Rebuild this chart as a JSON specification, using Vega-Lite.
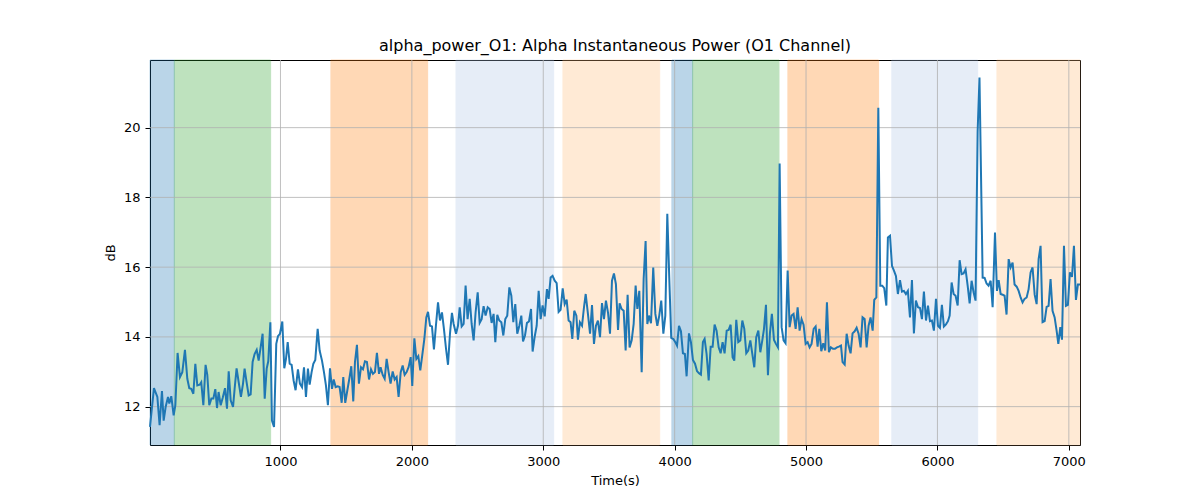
{
  "$schema": "https://vega.github.io/schema/vega-lite/v6.json",
  "width": 930,
  "height": 385,
  "autosize": "none",
  "padding": {"left": 150, "top": 60, "right": 120, "bottom": 55},
  "title": {"text": "alpha_power_O1: Alpha Instantaneous Power (O1 Channel)"},
  "datasets": {
    "bands": [
      {"start": 7, "end": 192, "phase": "p1"},
      {"start": 192, "end": 925, "phase": "p2"},
      {"start": 1384, "end": 2120, "phase": "p3"},
      {"start": 2336, "end": 3079, "phase": "p4"},
      {"start": 3150, "end": 3886, "phase": "p5"},
      {"start": 3979, "end": 4137, "phase": "p1"},
      {"start": 4137, "end": 4794, "phase": "p2"},
      {"start": 4862, "end": 5552, "phase": "p3"},
      {"start": 5653, "end": 6306, "phase": "p4"},
      {"start": 6453, "end": 7085, "phase": "p5"}
    ],
    "xgrid": [{"gx": 1000}, {"gx": 2000}, {"gx": 3000}, {"gx": 4000}, {"gx": 5000}, {"gx": 6000}, {"gx": 7000}],
    "ygrid": [{"gy": 12}, {"gy": 14}, {"gy": 16}, {"gy": 18}, {"gy": 20}],
    "signal": [
      {"t":7,"db":11.42},{"t":37,"db":12.53},{"t":63,"db":12.28},{"t":80,"db":11.47},{"t":98,"db":12.45},{"t":111,"db":11.6},{"t":126,"db":11.99},{"t":144,"db":12.28},{"t":154,"db":12.09},{"t":169,"db":12.3},{"t":187,"db":11.75},{"t":200,"db":12.04},{"t":217,"db":13.54},{"t":235,"db":12.85},{"t":253,"db":12.99},{"t":273,"db":13.63},{"t":291,"db":12.8},{"t":306,"db":12.53},{"t":321,"db":12.51},{"t":337,"db":12.37},{"t":352,"db":13.23},{"t":367,"db":12.61},{"t":385,"db":12.63},{"t":397,"db":12.7},{"t":413,"db":12.04},{"t":430,"db":13.2},{"t":443,"db":12.91},{"t":458,"db":12.04},{"t":474,"db":12.23},{"t":489,"db":12.23},{"t":504,"db":12.5},{"t":517,"db":11.96},{"t":529,"db":12.42},{"t":545,"db":12.04},{"t":560,"db":12.25},{"t":578,"db":12.53},{"t":593,"db":11.94},{"t":606,"db":13.01},{"t":621,"db":12.18},{"t":639,"db":11.99},{"t":651,"db":12.51},{"t":666,"db":13.1},{"t":682,"db":12.7},{"t":699,"db":12.28},{"t":715,"db":12.66},{"t":727,"db":13.09},{"t":742,"db":12.7},{"t":758,"db":12.32},{"t":773,"db":12.35},{"t":788,"db":13.28},{"t":803,"db":13.51},{"t":819,"db":13.63},{"t":834,"db":13.32},{"t":849,"db":13.7},{"t":864,"db":14.09},{"t":880,"db":12.23},{"t":895,"db":13.09},{"t":907,"db":13.3},{"t":923,"db":14.42},{"t":935,"db":11.6},{"t":951,"db":11.42},{"t":968,"db":13.8},{"t":981,"db":14.02},{"t":996,"db":14.09},{"t":1014,"db":14.44},{"t":1029,"db":13.1},{"t":1042,"db":13.37},{"t":1055,"db":13.85},{"t":1070,"db":13.23},{"t":1085,"db":13.2},{"t":1100,"db":12.75},{"t":1115,"db":12.47},{"t":1133,"db":13.07},{"t":1148,"db":12.66},{"t":1164,"db":12.56},{"t":1179,"db":13.13},{"t":1194,"db":12.28},{"t":1209,"db":13.09},
      {"t":1222,"db":12.63},{"t":1237,"db":12.99},{"t":1250,"db":13.23},{"t":1265,"db":13.34},{"t":1283,"db":14.23},{"t":1298,"db":13.61},{"t":1316,"db":13.32},{"t":1331,"db":12.99},{"t":1346,"db":12.61},{"t":1361,"db":12.04},{"t":1377,"db":13.1},{"t":1392,"db":12.51},{"t":1405,"db":12.78},{"t":1420,"db":12.56},{"t":1435,"db":12.58},{"t":1450,"db":12.56},{"t":1466,"db":12.11},{"t":1478,"db":12.85},{"t":1493,"db":12.11},{"t":1509,"db":12.47},{"t":1524,"db":12.8},{"t":1539,"db":13.16},{"t":1554,"db":12.15},{"t":1567,"db":13.28},{"t":1582,"db":13.77},{"t":1597,"db":12.66},{"t":1613,"db":13.13},{"t":1628,"db":13.07},{"t":1643,"db":13.3},{"t":1658,"db":13.28},{"t":1674,"db":12.78},{"t":1689,"db":13.07},{"t":1704,"db":12.94},{"t":1719,"db":12.99},{"t":1734,"db":13.54},{"t":1750,"db":12.94},{"t":1762,"db":13.13},{"t":1778,"db":12.91},{"t":1793,"db":12.8},{"t":1808,"db":13.37},{"t":1823,"db":12.99},{"t":1838,"db":12.66},{"t":1854,"db":13.01},{"t":1869,"db":12.78},{"t":1884,"db":12.85},{"t":1899,"db":12.28},{"t":1915,"db":12.99},{"t":1930,"db":13.18},{"t":1945,"db":12.91},{"t":1960,"db":12.99},{"t":1975,"db":13.13},{"t":1991,"db":13.42},{"t":2003,"db":12.59},{"t":2019,"db":13.96},{"t":2034,"db":13.37},{"t":2049,"db":13.45},{"t":2064,"db":13.04},{"t":2079,"db":13.47},{"t":2095,"db":13.94},{"t":2110,"db":14.56},{"t":2123,"db":14.72},{"t":2138,"db":14.32},{"t":2153,"db":14.3},{"t":2168,"db":13.64},{"t":2183,"db":14.32},{"t":2199,"db":14.99},{"t":2214,"db":14.47},{"t":2229,"db":14.7},{"t":2244,"db":14.23},{"t":2260,"db":13.66},{"t":2275,"db":13.2},{"t":2290,"db":14.09},{"t":2305,"db":14.69},
      {"t":2318,"db":14.37},{"t":2336,"db":14.09},{"t":2351,"db":14.32},{"t":2364,"db":14.85},{"t":2379,"db":14.3},{"t":2394,"db":14.37},{"t":2409,"db":15.47},{"t":2424,"db":14.51},{"t":2440,"db":15.09},{"t":2455,"db":14.37},{"t":2470,"db":13.9},{"t":2485,"db":14.7},{"t":2501,"db":15.28},{"t":2516,"db":14.4},{"t":2531,"db":14.51},{"t":2546,"db":14.88},{"t":2561,"db":14.61},{"t":2577,"db":14.85},{"t":2592,"db":14.8},{"t":2607,"db":14.4},{"t":2622,"db":14.66},{"t":2635,"db":13.85},{"t":2650,"db":14.63},{"t":2665,"db":14.47},{"t":2681,"db":14.42},{"t":2696,"db":14.04},{"t":2711,"db":14.51},{"t":2726,"db":14.61},{"t":2742,"db":15.42},{"t":2757,"db":15.18},{"t":2772,"db":14.42},{"t":2787,"db":14.94},{"t":2802,"db":14.09},{"t":2818,"db":14.32},{"t":2833,"db":14.61},{"t":2846,"db":13.87},{"t":2861,"db":14.04},{"t":2876,"db":14.4},{"t":2891,"db":14.44},{"t":2907,"db":14.8},{"t":2919,"db":13.58},{"t":2934,"db":13.99},{"t":2950,"db":14.32},{"t":2965,"db":15.32},{"t":2980,"db":14.51},{"t":2995,"db":14.9},{"t":3011,"db":14.59},{"t":3028,"db":15.37},{"t":3041,"db":15.09},{"t":3056,"db":15.7},{"t":3071,"db":15.75},{"t":3087,"db":15.61},{"t":3102,"db":15.54},{"t":3117,"db":14.72},{"t":3132,"db":14.78},{"t":3148,"db":15.39},{"t":3163,"db":14.94},{"t":3178,"db":15.07},{"t":3193,"db":14.47},{"t":3208,"db":14.42},{"t":3221,"db":13.94},{"t":3236,"db":14.75},{"t":3252,"db":14.61},{"t":3264,"db":13.92},{"t":3279,"db":14.42},{"t":3295,"db":14.32},{"t":3310,"db":14.85},{"t":3323,"db":15.23},{"t":3340,"db":14.66},{"t":3356,"db":14.09},{"t":3371,"db":14.91},{"t":3386,"db":13.8},{"t":3401,"db":14.32},{"t":3416,"db":14.47},{"t":3432,"db":13.99},{"t":3447,"db":14.97},{"t":3462,"db":14.51},{"t":3477,"db":15.04},{"t":3493,"db":14.69},{"t":3508,"db":14.09},{"t":3523,"db":15.61},
      {"t":3538,"db":15.82},{"t":3553,"db":15.51},{"t":3569,"db":14.2},{"t":3581,"db":14.96},{"t":3596,"db":14.8},{"t":3612,"db":14.75},{"t":3627,"db":13.61},{"t":3642,"db":15.21},{"t":3657,"db":13.7},{"t":3673,"db":13.9},{"t":3688,"db":14.37},{"t":3703,"db":15.47},{"t":3716,"db":14.8},{"t":3731,"db":15.32},{"t":3749,"db":12.99},{"t":3764,"db":15.66},{"t":3779,"db":16.75},{"t":3792,"db":14.37},{"t":3804,"db":14.61},{"t":3820,"db":14.39},{"t":3837,"db":15.99},{"t":3853,"db":14.66},{"t":3868,"db":14.32},{"t":3883,"db":14.61},{"t":3898,"db":15.04},{"t":3914,"db":14.09},{"t":3929,"db":14.61},{"t":3944,"db":17.53},{"t":3959,"db":15.7},{"t":3974,"db":13.97},{"t":3990,"db":13.94},{"t":4005,"db":13.85},{"t":4018,"db":13.75},{"t":4033,"db":14.32},{"t":4048,"db":14.16},{"t":4063,"db":13.53},{"t":4078,"db":13.51},{"t":4091,"db":12.87},{"t":4109,"db":14.1},{"t":4124,"db":13.85},{"t":4139,"db":13.34},{"t":4155,"db":13.23},{"t":4170,"db":13.02},{"t":4185,"db":12.96},{"t":4200,"db":12.92},{"t":4215,"db":13.85},{"t":4228,"db":13.94},{"t":4243,"db":13.51},{"t":4259,"db":12.75},{"t":4274,"db":13.72},{"t":4289,"db":13.72},{"t":4304,"db":14.35},{"t":4319,"db":14.18},{"t":4335,"db":13.7},{"t":4350,"db":13.53},{"t":4365,"db":13.85},{"t":4380,"db":13.53},{"t":4396,"db":14.18},{"t":4411,"db":14.2},{"t":4426,"db":14.35},{"t":4441,"db":13.42},{"t":4454,"db":13.32},{"t":4469,"db":14.49},{"t":4484,"db":13.85},{"t":4500,"db":13.9},{"t":4515,"db":14.47},{"t":4530,"db":14.23},{"t":4545,"db":13.53},{"t":4560,"db":13.61},{"t":4576,"db":13.9},{"t":4591,"db":13.51},{"t":4606,"db":13.13},{"t":4621,"db":13.99},{"t":4637,"db":14.18},{"t":4652,"db":13.56},{"t":4667,"db":13.9},{"t":4680,"db":14.23},
      {"t":4695,"db":14.92},{"t":4710,"db":12.9},{"t":4725,"db":14.1},{"t":4740,"db":14.66},{"t":4756,"db":13.91},{"t":4771,"db":13.8},{"t":4786,"db":13.7},{"t":4799,"db":18.97},{"t":4814,"db":14.28},{"t":4829,"db":13.9},{"t":4844,"db":13.82},{"t":4860,"db":15.9},{"t":4875,"db":14.28},{"t":4890,"db":14.61},{"t":4905,"db":14.66},{"t":4921,"db":14.23},{"t":4936,"db":14.85},{"t":4951,"db":14.18},{"t":4966,"db":14.51},{"t":4981,"db":14.35},{"t":4997,"db":13.8},{"t":5012,"db":13.85},{"t":5027,"db":13.7},{"t":5042,"db":13.8},{"t":5058,"db":14.23},{"t":5073,"db":14.3},{"t":5088,"db":13.72},{"t":5101,"db":14.23},{"t":5116,"db":13.59},{"t":5131,"db":13.82},{"t":5146,"db":13.61},{"t":5159,"db":14.99},{"t":5174,"db":13.56},{"t":5189,"db":13.7},{"t":5205,"db":13.66},{"t":5220,"db":13.66},{"t":5235,"db":13.7},{"t":5250,"db":13.72},{"t":5266,"db":13.75},{"t":5278,"db":13.28},{"t":5294,"db":13.21},{"t":5309,"db":14.09},{"t":5324,"db":13.75},{"t":5339,"db":13.53},{"t":5354,"db":14.1},{"t":5370,"db":14.16},{"t":5385,"db":14.26},{"t":5400,"db":14.09},{"t":5415,"db":13.7},{"t":5430,"db":14.56},{"t":5446,"db":14.51},{"t":5461,"db":13.7},{"t":5476,"db":14.32},{"t":5491,"db":14.56},{"t":5507,"db":14.18},{"t":5519,"db":15.06},{"t":5535,"db":15.13},{"t":5550,"db":20.57},{"t":5565,"db":15.47},{"t":5580,"db":15.47},{"t":5595,"db":15.4},{"t":5611,"db":14.9},{"t":5623,"db":16.85},{"t":5639,"db":16.9},{"t":5654,"db":16.04},{"t":5669,"db":15.9},{"t":5684,"db":15.75},{"t":5699,"db":15.23},{"t":5715,"db":15.63},{"t":5730,"db":15.3},{"t":5745,"db":15.32},{"t":5760,"db":15.23},{"t":5775,"db":15.32},{"t":5791,"db":14.56},{"t":5806,"db":15.63},{"t":5821,"db":14.1},{"t":5836,"db":15.04},
      {"t":5852,"db":14.85},{"t":5867,"db":14.83},{"t":5882,"db":14.51},{"t":5897,"db":15.3},{"t":5913,"db":14.47},{"t":5928,"db":14.9},{"t":5943,"db":14.45},{"t":5958,"db":14.47},{"t":5973,"db":14.18},{"t":5989,"db":15.09},{"t":6004,"db":14.32},{"t":6019,"db":14.26},{"t":6034,"db":14.92},{"t":6049,"db":14.3},{"t":6065,"db":14.36},{"t":6080,"db":14.45},{"t":6093,"db":14.61},{"t":6108,"db":15.56},{"t":6123,"db":15.23},{"t":6138,"db":15.18},{"t":6154,"db":14.9},{"t":6169,"db":16.2},{"t":6184,"db":15.8},{"t":6199,"db":15.82},{"t":6214,"db":15.94},{"t":6230,"db":15.47},{"t":6245,"db":14.96},{"t":6260,"db":15.61},{"t":6275,"db":15.28},{"t":6290,"db":15.04},{"t":6306,"db":19.9},{"t":6320,"db":21.44},{"t":6344,"db":15.7},{"t":6359,"db":15.69},{"t":6374,"db":15.53},{"t":6389,"db":15.47},{"t":6405,"db":15.61},{"t":6420,"db":14.85},{"t":6438,"db":16.99},{"t":6453,"db":15.32},{"t":6466,"db":15.63},{"t":6481,"db":15.23},{"t":6496,"db":15.21},{"t":6511,"db":15.18},{"t":6526,"db":14.64},{"t":6542,"db":16.23},{"t":6557,"db":15.99},{"t":6572,"db":16.13},{"t":6587,"db":15.5},{"t":6603,"db":15.44},{"t":6618,"db":15.32},{"t":6633,"db":15.13},{"t":6648,"db":14.99},{"t":6663,"db":15.09},{"t":6679,"db":15.13},{"t":6694,"db":15.37},{"t":6709,"db":15.85},{"t":6724,"db":15.99},{"t":6740,"db":15.21},{"t":6755,"db":14.94},{"t":6770,"db":16.23},{"t":6785,"db":16.61},{"t":6800,"db":14.42},{"t":6816,"db":14.45},{"t":6831,"db":14.86},{"t":6846,"db":14.89},{"t":6861,"db":15.66},{"t":6876,"db":14.75},{"t":6892,"db":14.56},{"t":6907,"db":14.18},{"t":6920,"db":13.8},{"t":6935,"db":14.28},{"t":6948,"db":13.92},{"t":6963,"db":16.61},{"t":6978,"db":14.89},{"t":6993,"db":14.92},{"t":7008,"db":15.85},{"t":7024,"db":15.72},{"t":7039,"db":16.61},{"t":7054,"db":15.06},{"t":7069,"db":15.5},{"t":7085,"db":15.5}
    ]
  },
  "layer": [
    {
      "data": {"name": "bands"},
      "mark": {"type": "rect", "opacity": 0.3, "strokeWidth": 1},
      "encoding": {
        "x": {"field": "start", "type": "quantitative", "scale": {"domain": [7, 7085], "nice": false, "zero": false}, "title": "Time(s)", "axis": {"values": [1000, 2000, 3000, 4000, 5000, 6000, 7000], "labelFlush": false, "format": "d"}},
        "x2": {"field": "end"},
        "y": {"value": 0},
        "y2": {"value": 385},
        "fill": {"field": "phase", "type": "nominal", "scale": {"domain": ["p1", "p2", "p3", "p4", "p5"], "range": ["#1f77b4", "#2ca02c", "#ff7f0e", "#aec7e8", "#ffbb78"]}, "legend": null},
        "stroke": {"field": "phase", "type": "nominal", "scale": {"domain": ["p1", "p2", "p3", "p4", "p5"], "range": ["#1f77b4", "#2ca02c", "#ff7f0e", "#aec7e8", "#ffbb78"]}, "legend": null}
      }
    },
    {
      "data": {"name": "xgrid"},
      "mark": {"type": "rule", "color": "#b0b0b0", "strokeWidth": 0.8},
      "encoding": {
        "x": {"field": "gx", "type": "quantitative", "title": "Time(s)"}
      }
    },
    {
      "data": {"name": "ygrid"},
      "mark": {"type": "rule", "color": "#b0b0b0", "strokeWidth": 0.8},
      "encoding": {
        "y": {"field": "gy", "type": "quantitative", "title": "dB"}
      }
    },
    {
      "data": {"name": "signal"},
      "mark": {"type": "line", "color": "#1f77b4", "strokeWidth": 2},
      "encoding": {
        "x": {"field": "t", "type": "quantitative", "title": "Time(s)", "axis": {"values": [1000, 2000, 3000, 4000, 5000, 6000, 7000], "labelFlush": false, "format": "d"}},
        "y": {"field": "db", "type": "quantitative", "scale": {"domain": [10.9, 21.94], "nice": false, "zero": false}, "title": "dB", "axis": {"values": [12, 14, 16, 18, 20]}}
      }
    }
  ],
  "config": {
    "font": "DejaVu Sans",
    "view": {"stroke": "black", "strokeWidth": 1},
    "axis": {
      "domain": false,
      "grid": false,
      "tickColor": "black",
      "tickSize": 5,
      "labelFontSize": 13,
      "labelColor": "black",
      "labelPadding": 5,
      "titleFontSize": 13,
      "titleFontWeight": "normal",
      "titleColor": "black",
      "titlePadding": 6,
      "labelFont": "DejaVu Sans",
      "titleFont": "DejaVu Sans"
    },
    "title": {"fontSize": 16, "fontWeight": "normal", "font": "DejaVu Sans", "offset": 6, "color": "black"}
  }
}
